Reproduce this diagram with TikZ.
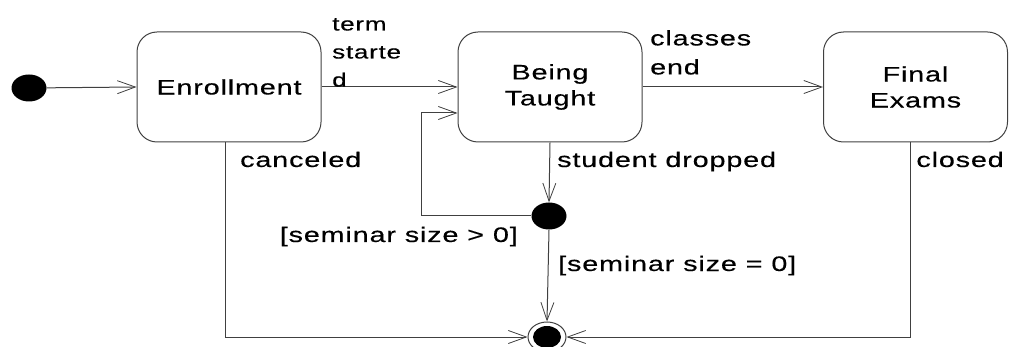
\documentclass[tikz,border=0pt]{standalone}
\usepackage{fontspec}
\setmainfont{Liberation Sans}[FakeStretch=1.37, LetterSpace=4, FakeBold=0.4]
\usetikzlibrary{arrows.meta,shapes.geometric}

\tikzset{
  state/.style={draw=black!75, line width=1pt, rounded corners=20pt,
    minimum width=184pt, minimum height=110pt, align=center,
    font=\fontsize{21}{26}\selectfont, inner sep=0pt},
  tr/.style={draw=black!75, line width=1pt,
    -{Straight Barb[length=18pt,width=13pt,line width=0.8pt]}},
  lbl/.style={font=\fontsize{21}{29}\selectfont, inner sep=0pt, anchor=base west},
  smalllbl/.style={font=\fontsize{19}{28}\selectfont, inner sep=0pt},
  dot/.style={ellipse, fill=black, minimum width=35pt, minimum height=27pt, inner sep=0pt},
  finalring/.style={ellipse, draw=black!75, fill=white, line width=1pt,
    minimum width=38pt, minimum height=30pt, inner sep=0pt},
}

\begin{document}
\begin{tikzpicture}[x=1pt,y=-1pt]
  \useasboundingbox (0,0) rectangle (1011,347);

  % states
  \node[dot] (init) at (29,88) {};
  \node[state] (enr) at (229,87) {Enrollment};
  \node[state] (bt) at (550,87) {Being\\Taught};
  \node[state] (fe) at (915.5,87) {Final\\Exams};
  \node[dot] (junc) at (549,216) {};
  \node[finalring] (fin) at (547,337) {};
  \fill (fin.center) ellipse (14pt and 11pt);

  % bend points
  \coordinate (cx) at (225,0);
  \coordinate (fx) at (910,0);
  \coordinate (lp) at (421,113);

  % transitions
  \draw[tr] (init) -- (enr.west);
  \draw[tr] (enr.east) -- (bt.west);
  \draw[tr] (bt.east) -- (fe.west);
  \draw[tr] (bt.south) -- (junc.north);
  \draw[tr] (junc.west) -| (lp) -- (lp -| bt.west);
  \draw[tr] (junc.south) -- (fin.north);
  \draw[tr] (enr.south -| cx) |- (fin.west);
  \draw[tr] (fe.south -| fx) |- (fin.east);

  % labels
  \node[smalllbl, align=left, anchor=north west] (lterm) at (332,18) {term\\starte\\d};
  \node[lbl, align=left, anchor=north west] (lcls) at (650,30) {classes\\end};
  \node[lbl] (lcan) at (240,167) {canceled};
  \node[lbl] (lsd) at (557,167) {student dropped};
  \node[lbl, anchor=base east] (lclo) at (1004,167) {closed};
  \node[lbl, anchor=base east] (lgt) at (518,242) {[seminar size > 0]};
  \node[lbl] (leq) at (558,271) {[seminar size = 0]};
\end{tikzpicture}
\end{document}
